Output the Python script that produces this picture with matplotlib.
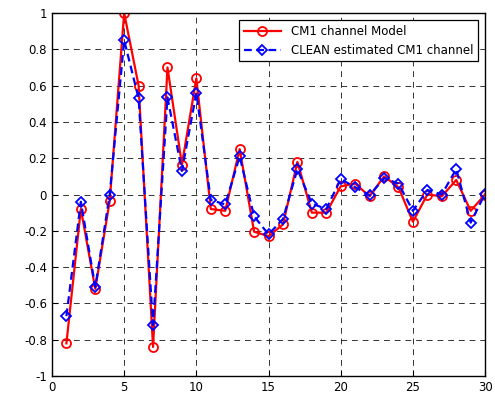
import numpy as np
import matplotlib
matplotlib.use('Agg')
import matplotlib.pyplot as plt

# tap index and amplitudes
taps = list(range(1, 31))
model = [-0.82, -0.08, -0.52, -0.035, 1.00, 0.60, -0.84, 0.70, 0.165, 0.64,
         -0.08, -0.09, 0.25, -0.205, -0.23, -0.165, 0.18, -0.10, -0.10, 0.045,
         0.06, -0.01, 0.10, 0.04, -0.15, 0.00, -0.01, 0.08, -0.09, 0.00]
clean = [-0.67, -0.04, -0.51, 0.00, 0.85, 0.53, -0.72, 0.535, 0.13, 0.56,
         -0.03, -0.055, 0.21, -0.12, -0.22, -0.135, 0.14, -0.05, -0.08, 0.085,
         0.04, -0.005, 0.09, 0.06, -0.09, 0.025, 0.00, 0.14, -0.155, 0.005]

fig = plt.figure(figsize=(4.95, 4.0), dpi=100)
ax = fig.add_axes([0.105, 0.06, 0.875, 0.9075])

ax.plot(taps, model, color='red', linestyle='-', linewidth=1.6,
        marker='o', markersize=6.5, markerfacecolor='none', markeredgewidth=1.3,
        label='CM1 channel Model')
ax.plot(taps, clean, color='blue', linestyle=(0, (3.5, 2)), linewidth=1.6,
        marker='D', markersize=5.5, markerfacecolor='none', markeredgewidth=1.3,
        label='CLEAN estimated CM1 channel')

ax.set_xlim(0, 30)
ax.set_ylim(-1, 1)
ax.set_xticks(np.arange(0, 31, 5))
ax.set_yticks(np.round(np.arange(-1, 1.01, 0.2), 1))
ax.set_yticklabels(['-1', '-0.8', '-0.6', '-0.4', '-0.2', '0',
                    '0.2', '0.4', '0.6', '0.8', '1'])
ax.tick_params(direction='in', labelsize=8.5, length=4)
ax.grid(True, color='black', linestyle=(0, (6, 5)), linewidth=0.7, alpha=0.8)
for s in ax.spines.values():
    s.set_linewidth(1.0)

leg = ax.legend(loc='upper right', fontsize=8.5, fancybox=False,
                framealpha=1, edgecolor='black', borderaxespad=0.6,
                handlelength=3.2)
leg.get_frame().set_linewidth(0.9)

fig.savefig('out.png', dpi=100)
